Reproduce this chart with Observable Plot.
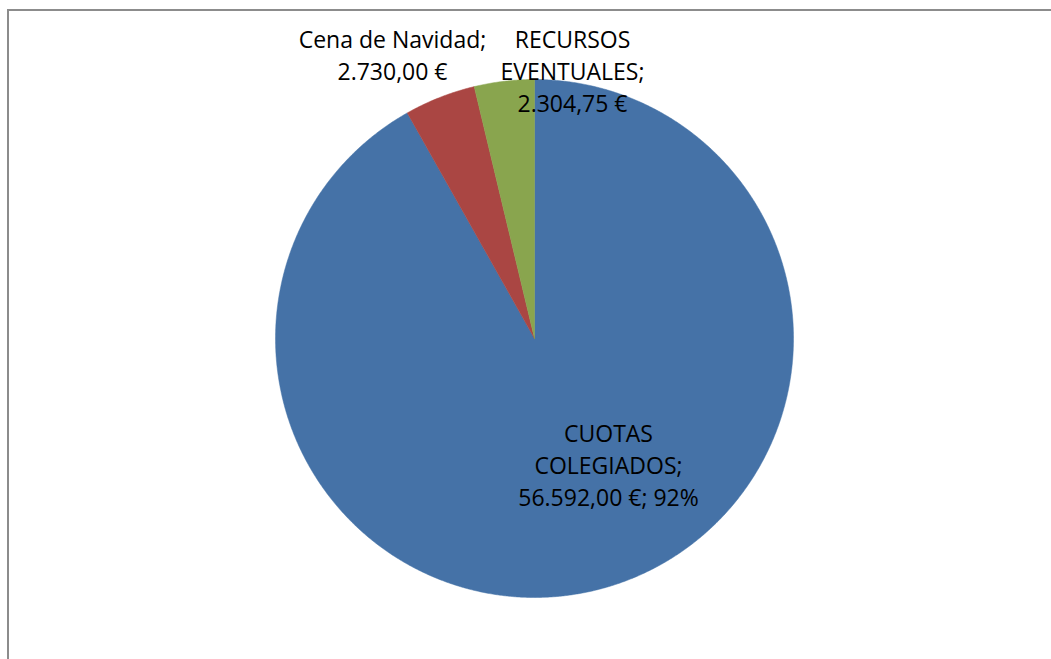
<!DOCTYPE html>
<html>
<head>
<meta charset="utf-8">
<script src="https://cdn.jsdelivr.net/npm/d3@7"></script>
<script src="https://cdn.jsdelivr.net/npm/@observablehq/plot@0.6"></script>
<style>
  html, body { margin: 0; padding: 0; background: #fff; }
  #wrap { position: relative; width: 1051px; height: 659px; overflow: hidden; }
  #frame { position: absolute; left: 7px; top: 9px; right: -10px; bottom: -10px;
           border-left: 2px solid #8c8c8c; border-top: 2px solid #8c8c8c; pointer-events: none; }
  #chart { position: absolute; left: 0; top: 0; }
</style>
</head>
<body>
<div id="wrap"><div id="chart"></div><div id="frame"></div></div>
<script>
// ---- data ----
const categories = ["CUOTAS COLEGIADOS", "Cena de Navidad", "RECURSOS EVENTUALES"];
const values = [56592.00, 2730.00, 2304.75];
const colors = ["#4572A7", "#AA4643", "#89A54E"];
const labelLines = [
  ["CUOTAS", "COLEGIADOS;", "56.592,00 €; 92%"],
  ["Cena de Navidad;", "2.730,00 €"],
  ["RECURSOS", "EVENTUALES;", "2.304,75 €"]
];

// ---- layout ----
const W = 1051, H = 659;
const cx = 534, cy = 338, R = 259;
const labelPos = [[608, 463], [392, 53], [572, 69]];

const pie = d3.pie().sort(null).value(d => d.value)(
  categories.map((c, i) => ({name: c, value: values[i]}))
);

// build outline points for each slice from pie angles (clockwise from 12 o'clock)
const pts = [];
pie.forEach(s => {
  const n = Math.max(4, Math.ceil((s.endAngle - s.startAngle) / 0.005));
  pts.push({name: s.data.name, x: cx, y: cy});
  for (let k = 0; k <= n; k++) {
    const a = s.startAngle + (s.endAngle - s.startAngle) * k / n;
    pts.push({name: s.data.name, x: cx + R * Math.sin(a), y: cy - R * Math.cos(a)});
  }
  pts.push({name: s.data.name, x: cx, y: cy});
});

const labels = categories.map((c, i) => ({
  name: c, text: labelLines[i].join("\n"), x: labelPos[i][0], y: labelPos[i][1]
}));

const chart = Plot.plot({
  width: W, height: H,
  margin: 0,
  x: {domain: [0, W], range: [0, W], axis: null},
  y: {domain: [0, H], range: [0, H], axis: null},
  color: {domain: categories, range: colors},
  style: {fontFamily: "'Open Sans', sans-serif", background: "transparent"},
  marks: [
    Plot.line(pts, {x: "x", y: "y", z: "name", fill: "name", stroke: "name", strokeWidth: 0.5, curve: "linear"}),
    Plot.text(labels, {x: "x", y: "y", text: "text", fontSize: 23, lineHeight: 1.39,
      lineAnchor: "middle", textAnchor: "middle", fill: "#000"})
  ]
});
document.getElementById("chart").appendChild(chart);
</script>
</body>
</html>
